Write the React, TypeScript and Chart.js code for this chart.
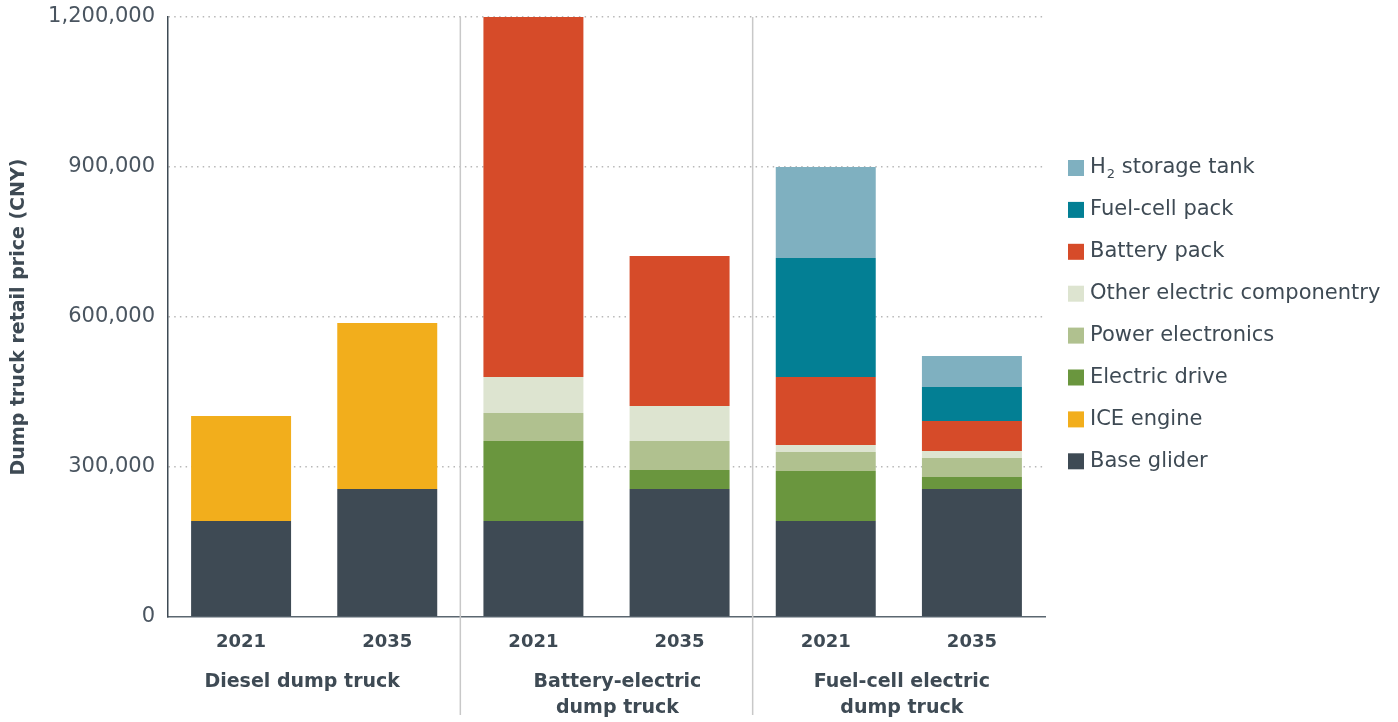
import React, { useEffect, useRef } from "react";
import { Chart, registerables } from "chart.js";

Chart.register(...registerables);

const categories = ["2021", "2035", "2021", "2035", "2021", "2035"];
const groupLabels = [["Diesel dump truck"], ["Battery-electric", "dump truck"], ["Fuel-cell electric", "dump truck"]];
const yTicks = [0, 300000, 600000, 900000, 1200000];

const baseGlider = [192000, 256000, 192000, 256000, 192000, 256000];
const iceEngine = [210000, 332000, 0, 0, 0, 0];
const electricDrive = [0, 0, 160000, 38000, 100000, 24000];
const powerElectronics = [0, 0, 56000, 58000, 38000, 38000];
const otherElectric = [0, 0, 72000, 70000, 14000, 14000];
const batteryPack = [0, 0, 720000, 300000, 136000, 60000];
const fuelCellPack = [0, 0, 0, 0, 238000, 68000];
const h2Tank = [0, 0, 0, 0, 182000, 62000];

const seriesNames = ["Base glider", "ICE engine", "Electric drive", "Power electronics", "Other electric componentry", "Battery pack", "Fuel-cell pack", "H2 storage tank"];
const seriesData = [baseGlider, iceEngine, electricDrive, powerElectronics, otherElectric, batteryPack, fuelCellPack, h2Tank];
const seriesColors = ["#3e4a54", "#f2ae1c", "#6a963e", "#b0c18f", "#dde4d0", "#d64b29", "#037f94", "#7fb0c0"];

const FONT = "'DejaVu Sans', sans-serif";
const TEXT = "#3e4a54";

export default function App() {
  const ref = useRef<HTMLCanvasElement | null>(null);
  useEffect(() => {
    document.body.style.margin = "0";
    const labelShift = [-12, 11, 3];
    const overlay = {
      id: "overlay",
      beforeDatasetsDraw(chart: any) {
        const ctx = chart.ctx;
        const xs = chart.scales.x;
        const ca = chart.chartArea;
        ctx.save();
        ctx.strokeStyle = "#c8c8c8";
        ctx.lineWidth = 1.5;
        [2, 4].forEach((i) => {
          const x = (xs.getPixelForValue(i - 1) + xs.getPixelForValue(i)) / 2;
          ctx.beginPath();
          ctx.moveTo(x, ca.top);
          ctx.lineTo(x, 715);
          ctx.stroke();
        });
        ctx.restore();
      },
      afterDraw(chart: any) {
        const ctx = chart.ctx;
        const xs = chart.scales.x;
        const ca = chart.chartArea;
        ctx.save();
        ctx.fillStyle = TEXT;
        ctx.textAlign = "center";
        ctx.textBaseline = "middle";
        ctx.font = `bold 19px ${FONT}`;
        groupLabels.forEach((lines, g) => {
          const cx = (xs.getPixelForValue(g * 2) + xs.getPixelForValue(g * 2 + 1)) / 2 + labelShift[g];
          lines.forEach((t, k) => ctx.fillText(t, cx, 682 + k * 26));
        });
        // y title
        ctx.save();
        ctx.translate(19, (ca.top + ca.bottom) / 2);
        ctx.rotate(-Math.PI / 2);
        ctx.font = `bold 19px ${FONT}`;
        ctx.fillText("Dump truck retail price (CNY)", 0, 0);
        ctx.restore();
        // legend
        ctx.textAlign = "left";
        const n = seriesNames.length;
        for (let r = 0; r < n; r++) {
          const idx = n - 1 - r;
          const y = 168 + r * 41.9;
          ctx.fillStyle = seriesColors[idx];
          ctx.fillRect(1068, y - 8, 16, 16);
          ctx.fillStyle = TEXT;
          ctx.font = `21px ${FONT}`;
          const name = seriesNames[idx];
          if (name.startsWith("H2")) {
            ctx.fillText("H", 1090, y);
            const w = ctx.measureText("H").width;
            ctx.font = `13px ${FONT}`;
            ctx.fillText("2", 1090 + w + 1, y + 7);
            const w2 = ctx.measureText("2").width;
            ctx.font = `21px ${FONT}`;
            ctx.fillText(name.slice(2), 1090 + w + w2 + 1, y);
          } else {
            ctx.fillText(name, 1090, y);
          }
        }
        ctx.restore();
      },
    };
    const chart = new Chart(ref.current as HTMLCanvasElement, {
      type: "bar",
      data: {
        labels: categories,
        datasets: seriesNames.map((name, i) => ({
          label: name,
          data: seriesData[i],
          backgroundColor: seriesColors[i],
          borderWidth: 0,
          barPercentage: 0.684,
          categoryPercentage: 1,
        })),
      },
      options: {
        animation: false,
        responsive: false,
        layout: { padding: { top: 17, right: 353, bottom: 0, left: 0 } },
        plugins: { legend: { display: false }, tooltip: { enabled: false } },
        scales: {
          x: {
            stacked: true,
            grid: { display: false },
            border: { display: true, color: "#5b6770", width: 1.5 },
            ticks: { color: TEXT, font: { family: FONT, size: 18, weight: "bold" }, padding: 7 },
            afterFit: (s: any) => { s.height = 105; s.paddingLeft = 0; s.paddingRight = 0; },
          },
          y: {
            stacked: true,
            min: 0,
            max: 1200000,
            afterBuildTicks: (s: any) => { s.ticks = yTicks.map((v) => ({ value: v })); },
            grid: {
              drawTicks: false,
              color: (c: any) => (c.tick && c.tick.value === 0 ? "rgba(0,0,0,0)" : "#b8b8b8"),
              lineWidth: 1.5,
            },
            border: { display: true, color: "#3e4a54", width: 1.5, dash: [1.5, 4.2] },
            ticks: {
              color: "#4a5560",
              font: { family: FONT, size: 21 },
              padding: 13,
              callback: (v: any) => Number(v).toLocaleString("en-US"),
            },
            afterFit: (s: any) => { s.width = 168; s.paddingTop = 0; s.paddingBottom = 0; },
          },
        },
      },
      plugins: [overlay],
    } as any);
    return () => chart.destroy();
  }, []);
  return (
    <div style={{ width: 1398, height: 722 }}>
      <canvas ref={ref} width={1398} height={722} style={{ width: 1398, height: 722 }} />
    </div>
  );
}
